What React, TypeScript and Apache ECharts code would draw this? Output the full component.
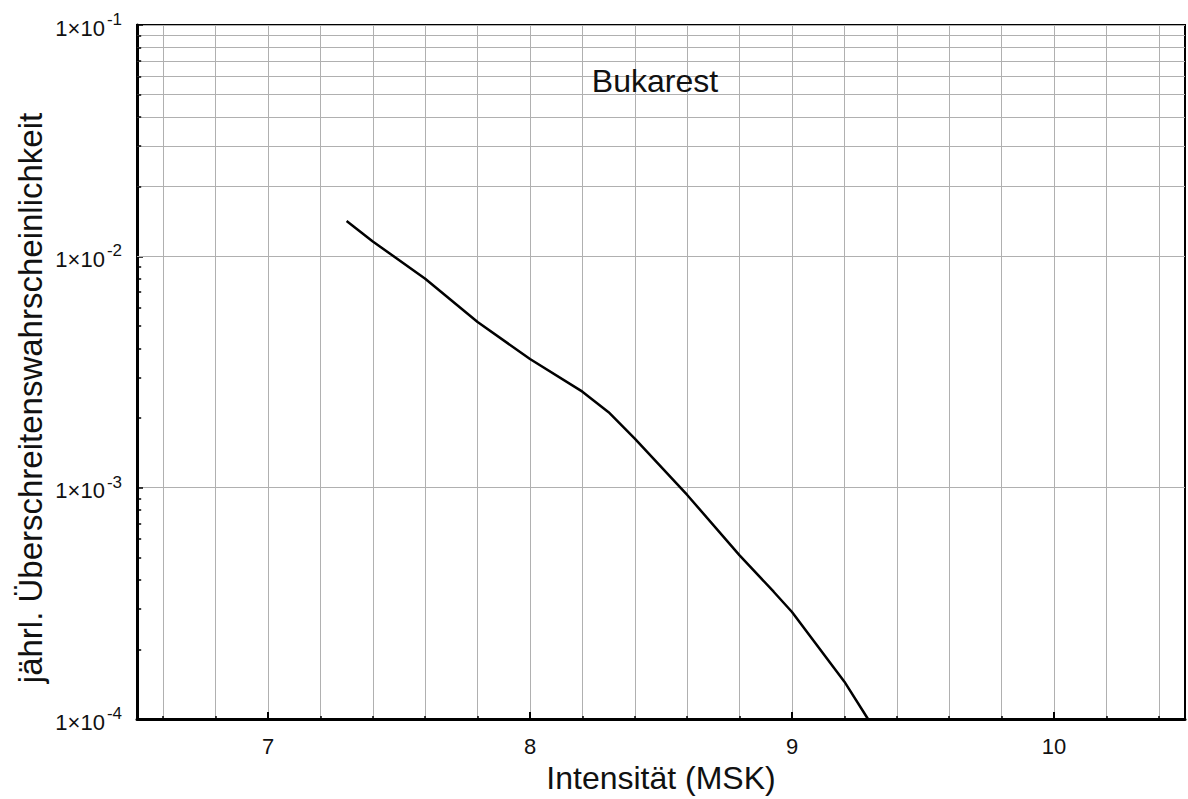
import React, { useEffect, useRef } from 'react';
import * as echarts from 'echarts';

// Curve: intensity (MSK) vs annual exceedance probability
const intensity = [7.3, 7.4, 7.6, 7.8, 8.0, 8.2, 8.3, 8.4, 8.6, 8.8, 8.93, 9.0, 9.2, 9.29];
const probability = [0.0142, 0.0116, 0.008, 0.0052, 0.0036, 0.0026, 0.00212, 0.00163, 0.00093, 0.00051, 0.000355, 0.00029, 0.000145, 0.0001];

// Axis ticks / grid
const xGridValues = [6.6, 6.8, 7.0, 7.2, 7.4, 7.6, 7.8, 8.0, 8.2, 8.4, 8.6, 8.8, 9.0, 9.2, 9.4, 9.6, 9.8, 10.0, 10.2, 10.4];
const xLabelValues = [7, 8, 9, 10];
const yMinorGridValues = [
  0.0002, 0.0003, 0.0004, 0.0005, 0.0006, 0.0007, 0.0008, 0.0009,
  0.002, 0.003, 0.004, 0.005, 0.006, 0.007, 0.008, 0.009,
  0.02, 0.03, 0.04, 0.05, 0.06, 0.07, 0.08, 0.09,
];

const X_MIN = 6.5;
const X_MAX = 10.5;
const FONT = "'Liberation Sans', Arial, Helvetica, sans-serif";
const GRID_COLOR = '#b0b0b0';
const TEXT_COLOR = '#111';

export default function App() {
  const ref = useRef<HTMLDivElement>(null);
  useEffect(() => {
    if (!ref.current) return;
    const chart = echarts.init(ref.current, undefined, { renderer: 'svg' });
    const data = intensity.map((x, i) => [x, probability[i]]);
    // short inside tick on the left axis at each minor log gridline
    const minorTickLen = (X_MAX - X_MIN) * 0.004;
    chart.setOption({
      animation: false,
      backgroundColor: '#fff',
      textStyle: { fontFamily: FONT },
      graphic: [
        {
          type: 'text',
          x: 655,
          y: 81,
          z: 10,
          style: { text: 'Bukarest', font: `32px ${FONT}`, fill: TEXT_COLOR, textAlign: 'center', textVerticalAlign: 'middle' },
        },
        {
          type: 'text',
          x: 30,
          y: 398,
          rotation: Math.PI / 2,
          z: 10,
          style: {
            text: 'jährl. Überschreitenswahrscheinlichkeit',
            font: `33px ${FONT}`,
            fill: TEXT_COLOR,
            textAlign: 'center',
            textVerticalAlign: 'middle',
          },
        },
      ],
      grid: {
        left: 137, right: 3, top: 25, bottom: 80,
        show: true, borderColor: '#000', borderWidth: 2, backgroundColor: 'transparent',
      },
      xAxis: [
        {
          type: 'value',
          min: X_MIN,
          max: X_MAX,
          name: 'Intensität (MSK)',
          nameLocation: 'middle',
          nameGap: 43,
          nameTextStyle: { fontFamily: FONT, fontSize: 32, color: TEXT_COLOR },
          axisLine: { show: true, onZero: false, lineStyle: { color: '#000', width: 3 } },
          axisTick: { show: true, inside: true, length: 3, customValues: xGridValues, lineStyle: { color: '#000', width: 1.5 } },
          axisLabel: {
            customValues: xLabelValues,
            margin: 15,
            formatter: (v: number) => `{n|${v}}`,
            rich: { n: { fontFamily: FONT, fontSize: 22, color: TEXT_COLOR, lineHeight: 24 } },
          },
          splitLine: { show: true, lineStyle: { color: GRID_COLOR, width: 1 } },
        },
        {
          type: 'value',
          min: X_MIN,
          max: X_MAX,
          position: 'bottom',
          axisLine: { show: false },
          axisTick: { show: true, inside: true, length: 7, customValues: xLabelValues, lineStyle: { color: '#000', width: 2 } },
          axisLabel: { show: false },
          splitLine: { show: false },
        },
      ],
      yAxis: {
        type: 'log',
        logBase: 10,
        min: 0.0001,
        max: 0.1,
        axisLine: { show: true, onZero: false, lineStyle: { color: '#000', width: 3 } },
        axisTick: { show: true, inside: true, length: 6, lineStyle: { color: '#000', width: 1.5 } },
        axisLabel: {
          margin: 15,
          fontSize: 22,
          fontFamily: FONT,
          color: TEXT_COLOR,
          formatter: (v: number) => `{b|1×10}{s|${Math.round(Math.log10(v))}}`,
          rich: {
            b: { fontFamily: FONT, fontSize: 22, color: TEXT_COLOR, verticalAlign: 'bottom', lineHeight: 28 },
            s: { fontFamily: FONT, fontSize: 17, color: TEXT_COLOR, verticalAlign: 'top', lineHeight: 28, padding: [0, 0, 0, 2] },
          },
        },
        splitLine: { show: true, lineStyle: { color: GRID_COLOR, width: 1 } },
      },
      series: [
        {
          name: 'grid',
          type: 'line',
          data: [],
          z: 1,
          silent: true,
          markLine: {
            silent: true,
            symbol: ['none', 'none'],
            label: { show: false },
            lineStyle: { color: GRID_COLOR, width: 1, type: 'solid' },
            emphasis: { disabled: true },
            data: yMinorGridValues.map((v) => ({ yAxis: v })),
          },
        },
        {
          name: 'minorTicks',
          type: 'line',
          data: [],
          z: 2,
          silent: true,
          markLine: {
            silent: true,
            symbol: ['none', 'none'],
            label: { show: false },
            lineStyle: { color: '#000', width: 1.5, type: 'solid' },
            emphasis: { disabled: true },
            data: yMinorGridValues.map((v) => [{ coord: [X_MIN, v] }, { coord: [X_MIN + minorTickLen, v] }]),
          },
        },
        {
          name: 'Bukarest',
          type: 'line',
          data,
          z: 5,
          showSymbol: false,
          symbol: 'none',
          lineStyle: { color: '#000', width: 2.5 },
        },
      ],
    });
    return () => chart.dispose();
  }, []);
  return <div ref={ref} style={{ width: 1188, height: 799, position: 'absolute', left: 0, top: 0 }} />;
}
